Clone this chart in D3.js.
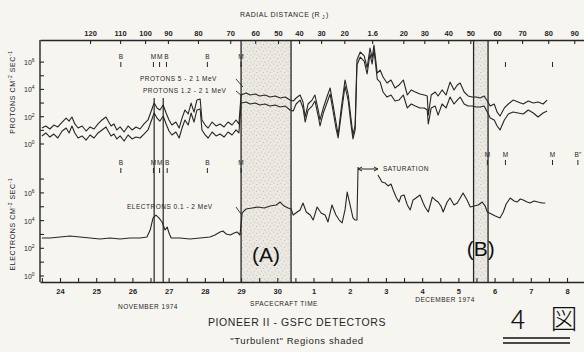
<!DOCTYPE html>
<html>
<head>
<meta charset="utf-8">
<script src="https://cdn.jsdelivr.net/npm/d3@7"></script>
<style>
  body { margin: 0; background: #f6f5f0; }
  svg { display: block; font-family: 'Liberation Sans', 'DejaVu Sans', sans-serif; }
</style>
</head>
<body>
<div id="chart"></div>
<script>
// days counted from 1 Nov 1974 (Dec 1 = 31), values are log10 of flux (cm^-2 sec^-1)
const protonDays = [23.50, 23.61, 23.72, 23.83, 23.94, 24.06, 24.17, 24.25, 24.33, 24.41, 24.50, 24.61, 24.72, 24.83, 24.94,
  25.05, 25.16, 25.27, 25.33, 25.41, 25.49, 25.57, 25.66, 25.77, 25.88, 25.99, 26.10, 26.21, 26.32, 26.43, 26.51, 26.60,
  26.68, 26.76, 26.85, 26.93, 27.01, 27.09, 27.20, 27.29, 27.37, 27.45, 27.54, 27.62, 27.70, 27.78, 27.87, 27.92, 28.01,
  28.09, 28.20, 28.31, 28.42, 28.53, 28.64, 28.75, 28.86, 28.94, 29.00, 29.14, 29.25, 29.39, 29.52, 29.66, 29.80, 29.94,
  30.08, 30.22, 30.35, 30.44, 30.52, 30.63, 30.71, 30.77, 30.85, 30.96, 31.04, 31.13, 31.18, 31.27, 31.38, 31.46, 31.54,
  31.62, 31.68, 31.76, 31.87, 31.96, 32.04, 32.09, 32.15, 32.20, 32.29, 32.40, 32.48, 32.56, 32.62, 32.67, 32.76, 32.84,
  32.92, 33.03, 33.14, 33.25, 33.36, 33.48, 33.59, 33.70, 33.81, 33.94, 34.06, 34.14, 34.17, 34.25, 34.36, 34.44, 34.55,
  34.66, 34.77, 34.88, 34.97, 35.05, 35.16, 35.27, 35.38, 35.49, 35.60, 35.71, 35.80, 35.88, 35.99, 36.07, 36.15, 36.27,
  36.38, 36.51, 36.65, 36.79, 36.93, 37.07, 37.20, 37.34, 37.45];
const protonUpper = [1.17, 1.32, 1.10, 1.39, 1.25, 1.61, 1.90, 1.68, 1.98, 1.47, 1.17, 1.32, 0.95, 1.25, 1.10,
  1.47, 1.76, 1.98, 1.68, 1.32, 1.47, 1.03, 1.25, 0.88, 1.32, 1.03, 1.25, 1.10, 1.47, 1.76, 2.34, 3.00,
  2.64, 2.49, 2.86, 2.27, 1.76, 1.39, 1.61, 1.17, 1.90, 2.49, 2.20, 3.00, 2.34, 3.22, 3.30, 1.76, 1.39,
  1.17, 1.61, 1.32, 1.47, 1.25, 1.61, 1.39, 1.76, 1.47, 3.59, 3.74, 3.59, 3.66, 3.52, 3.59, 3.44, 3.52,
  3.37, 3.44, 3.22, 3.15, 3.37, 3.59, 3.08, 1.98, 2.93, 3.22, 3.59, 2.49, 1.76, 2.64, 3.52, 4.10, 2.86,
  1.61, 0.66, 2.49, 4.69, 3.59, 1.76, 0.66, 1.39, 6.15, 6.74, 6.45, 5.57, 7.03, 6.30, 7.25, 5.20, 5.42,
  4.91, 4.47, 4.69, 4.10, 4.32, 4.69, 3.59, 3.96, 3.81, 3.66, 3.59, 3.52, 2.12, 3.59, 3.81, 3.52, 3.96,
  3.59, 4.54, 3.96, 4.32, 4.47, 3.81, 3.52, 3.44, 3.44, 3.37, 3.52, 3.15, 2.78, 2.93, 2.34, 2.05, 2.64,
  2.93, 3.22, 3.08, 2.93, 3.15, 3.00, 3.08, 2.93, 3.22];
const protonLower = [0.59, 0.81, 0.51, 0.73, 0.44, 0.95, 1.17, 0.81, 1.32, 0.81, 0.44, 0.59, 0.29, 0.66, 0.44,
  0.81, 1.03, 1.25, 0.95, 0.59, 0.73, 0.37, 0.59, 0.22, 0.66, 0.37, 0.51, 0.44, 0.73, 1.03, 1.61, 2.27,
  1.90, 1.68, 2.05, 1.47, 0.95, 0.66, 0.88, 0.44, 1.17, 1.76, 1.39, 2.27, 1.61, 2.49, 2.56, 1.03, 0.66,
  0.44, 0.88, 0.59, 0.73, 0.51, 0.88, 0.66, 1.03, 0.81, 3.00, 3.08, 2.93, 3.00, 2.86, 2.93, 2.78, 2.86,
  2.71, 2.78, 2.49, 2.42, 2.93, 3.22, 2.64, 1.61, 2.49, 2.78, 3.15, 2.05, 1.32, 2.27, 3.08, 3.66, 2.42,
  1.17, 0.44, 2.05, 4.25, 3.15, 1.32, 0.37, 1.03, 5.79, 6.37, 6.08, 5.13, 6.59, 5.86, 6.89, 4.76, 4.54,
  3.81, 3.44, 3.59, 3.15, 3.22, 3.59, 2.64, 2.93, 2.78, 2.64, 2.64, 2.49, 1.47, 2.64, 2.78, 2.12, 2.93,
  2.64, 3.44, 2.93, 3.22, 3.44, 2.93, 2.78, 2.78, 2.71, 2.71, 2.78, 2.34, 1.90, 1.76, 1.32, 1.03, 1.76,
  2.20, 2.34, 2.27, 2.20, 2.49, 2.27, 1.98, 2.27, 2.42];

const electronDays = [23.50, 23.72, 24.00, 24.28, 24.55, 24.83, 25.10, 25.38, 25.66, 25.93, 26.21, 26.40, 26.49, 26.57,
  26.65, 26.73, 26.82, 26.90, 26.96, 27.01, 27.07, 27.31, 27.59, 27.87, 28.14, 28.28, 28.42, 28.50, 28.59, 28.70, 28.81,
  28.89, 28.97, 29.03, 29.14, 29.30, 29.47, 29.64, 29.80, 29.97, 30.08, 30.19, 30.30, 30.38, 30.44, 30.55, 30.63, 30.71,
  30.80, 30.91, 30.99, 31.10, 31.21, 31.32, 31.40, 31.51, 31.62, 31.71, 31.79, 31.87, 31.93, 32.01, 32.09, 32.15, 32.20,
  32.23, 32.50, 32.78, 32.89, 32.98, 33.06, 33.14, 33.20, 33.28, 33.36, 33.42, 33.50, 33.59, 33.67, 33.75, 33.83, 33.94,
  34.03, 34.08, 34.17, 34.28, 34.36, 34.44, 34.52, 34.58, 34.69, 34.77, 34.88, 34.97, 35.05, 35.13, 35.24, 35.33, 35.44,
  35.55, 35.66, 35.74, 35.80, 35.91, 36.02, 36.15, 36.24, 36.32, 36.43, 36.54, 36.62, 36.71, 36.79, 36.90, 36.98, 37.09,
  37.20, 37.31, 37.40];
// null = detector saturated
const electronFlux = [2.74, 2.74, 2.82, 2.89, 2.82, 2.74, 2.67, 2.74, 2.67, 2.74, 2.74, 2.82, 3.32, 4.19,
  4.40, 4.19, 3.90, 3.32, 3.54, 3.10, 2.74, 2.74, 2.67, 2.74, 2.82, 2.96, 3.18, 3.25, 3.03, 2.96, 3.10,
  3.18, 2.96, 4.55, 4.84, 4.91, 4.98, 4.91, 5.05, 5.13, 5.34, 5.05, 4.91, 4.84, 4.40, 4.62, 4.77, 5.27,
  4.62, 4.40, 4.04, 4.98, 4.55, 4.40, 3.90, 5.13, 4.40, 4.04, 3.83, 4.77, 6.06, 5.13, 4.19, 4.04, 4.04,
  7.87, null, 7.29, 6.79, 6.71, 6.50, 6.64, 6.21, 5.70, 5.34, 5.78, 5.85, 5.13, 4.77, 5.49, 5.63, 5.85,
  5.27, 4.98, 4.62, 5.70, 5.49, 5.34, 5.05, 4.62, 5.34, 5.63, 5.13, 5.27, 5.63, 5.99, 5.49, 4.98, 5.05,
  5.13, 5.34, 5.05, 4.62, 4.48, 4.33, 4.19, 4.62, 5.20, 5.63, 5.42, 5.34, 5.56, 5.49, 5.34, 5.27, 5.42,
  5.34, 5.27, 5.27];

const radialLabels = ['120', '110', '100', '90', '80', '70', '60', '50', '40', '30', '20', '1.6', '20', '30', '40', '50', '60', '70', '80', '90'];
const radialDays = [24.83, 25.66, 26.35, 26.98, 27.81, 28.70, 29.39, 30.02, 30.60, 31.21, 31.85, 32.62, 33.48, 34.06, 34.72, 35.33, 36.07, 36.76, 37.48, 38.20];

// bow shock (B) and magnetopause (M) crossings
const protonCrossings = [
  { day: 25.68, label: 'B' }, { day: 26.58, label: 'M' }, { day: 26.75, label: 'M' }, { day: 26.94, label: 'B' },
  { day: 28.07, label: 'B' }, { day: 29.00, label: 'M' }, { day: 36.30, label: '' }, { day: 37.60, label: '' }
];
const electronCrossingsIn = [
  { day: 25.68, label: 'B' }, { day: 26.58, label: 'M' }, { day: 26.75, label: 'M' }, { day: 26.96, label: 'B' },
  { day: 28.07, label: 'B' }, { day: 29.00, label: 'M' }
];
const electronCrossingsOut = [
  { day: 35.80, label: 'M' }, { day: 36.30, label: 'M' }, { day: 37.60, label: 'M' }, { day: 38.30, label: 'B"' }
];
const turbulentRegions = [{ from: 29.00, to: 30.38, name: '(A)' }, { from: 35.42, to: 35.82, name: '(B)' }];
const magnetopauseLines = [26.60, 26.85];

const width = 584, height = 352;
const ink = '#262626';
const margin = { left: 40, right: 584, top: 40, bottom: 282 };

const dayToDate = d => new Date(Date.UTC(1974, 10, 1) + (d - 1) * 864e5);

const svg = d3.select('#chart').append('svg')
  .attr('width', width)
  .attr('height', height);

const defs = svg.append('defs');
const pat = defs.append('pattern').attr('id', 'stipple').attr('patternUnits', 'userSpaceOnUse')
  .attr('width', 7).attr('height', 7);
pat.append('rect').attr('width', 7).attr('height', 7).attr('fill', '#ebe9e2');
[[1, 1], [4.5, 2.5], [2.5, 5], [6, 6]].forEach(p => {
  pat.append('circle').attr('cx', p[0]).attr('cy', p[1]).attr('r', 0.6).attr('fill', '#bdb9b1');
});

const x = d3.scaleUtc()
  .domain([dayToDate(23.448), dayToDate(38.469)])
  .range([margin.left, margin.right]);
const yP = d3.scaleLog().domain([1, Math.pow(10, 7.62)]).range([144, margin.top]);
const yE = d3.scaleLog().domain([1, 1e8]).range([276, 165.2]);

// shaded turbulent regions
svg.append('g').selectAll('rect')
  .data(turbulentRegions)
  .enter().append('rect')
  .attr('x', d => x(dayToDate(d.from)))
  .attr('y', margin.top)
  .attr('width', d => x(dayToDate(d.to)) - x(dayToDate(d.from)))
  .attr('height', margin.bottom - margin.top)
  .attr('fill', 'url(#stipple)');

// region boundary lines
const bounds = [];
turbulentRegions.forEach(r => { bounds.push(r.from, r.to); });
svg.append('g').selectAll('line')
  .data(bounds)
  .enter().append('line')
  .attr('x1', d => x(dayToDate(d))).attr('x2', d => x(dayToDate(d)))
  .attr('y1', margin.top).attr('y2', margin.bottom)
  .attr('stroke', ink).attr('stroke-width', 1.3);

svg.append('g').selectAll('line')
  .data(magnetopauseLines)
  .enter().append('line')
  .attr('x1', d => x(dayToDate(d))).attr('x2', d => x(dayToDate(d)))
  .attr('y1', 98).attr('y2', margin.bottom)
  .attr('stroke', ink).attr('stroke-width', 1.2);

// frame: left, top and bottom axes
svg.append('line').attr('x1', margin.left).attr('x2', margin.left)
  .attr('y1', margin.top).attr('y2', margin.bottom)
  .attr('stroke', ink).attr('stroke-width', 1.4);

const topAxis = svg.append('g')
  .attr('transform', 'translate(0,' + margin.top + ')')
  .call(d3.axisTop(x)
    .tickValues(radialDays.map(dayToDate))
    .tickFormat((d, i) => radialLabels[i])
    .tickSize(-4).tickSizeOuter(0).tickPadding(4));

const halfDays = d3.utcHour.every(12).range(dayToDate(23.5), dayToDate(38.47));
const bottomAxis = svg.append('g')
  .attr('transform', 'translate(0,' + margin.bottom + ')')
  .call(d3.axisBottom(x)
    .tickValues(halfDays)
    .tickFormat(d => d.getUTCHours() === 0 ? d.getUTCDate() : '')
    .tickSize(-4).tickSizeOuter(0).tickPadding(7));

[topAxis, bottomAxis].forEach(a => {
  a.select('.domain').attr('stroke', ink).attr('stroke-width', 1.4);
  a.selectAll('.tick line').attr('stroke', ink).attr('stroke-width', 1.1);
  a.selectAll('.tick text').attr('fill', ink).style('font-size', '7.5px').style('font-weight', 'bold');
});

// y ticks (every decade) and labels (every second decade)
function yAxis(scale, top) {
  const g = svg.append('g');
  const decades = d3.range(0, 9).map(e => Math.pow(10, e)).filter(v => scale(v) >= top);
  g.selectAll('line')
    .data(decades)
    .enter().append('line')
    .attr('x1', margin.left).attr('x2', margin.left + 4)
    .attr('y1', d => scale(d)).attr('y2', d => scale(d))
    .attr('stroke', ink).attr('stroke-width', 1.1);
  const lab = g.selectAll('text')
    .data(decades.filter((d, i) => i % 2 === 0 && i <= 6))
    .enter().append('text')
    .attr('x', 24).attr('y', d => scale(d) + 3)
    .attr('fill', ink).style('font-size', '7px');
  lab.append('tspan').text('10');
  lab.append('tspan').attr('dy', -3).style('font-size', '5px').text(d => Math.round(Math.log10(d)));
}
yAxis(yP, 50);
yAxis(yE, 166);

function axisTitle(cx, cy, name) {
  const t = svg.append('text')
    .attr('transform', 'translate(' + cx + ',' + cy + ') rotate(-90)')
    .attr('text-anchor', 'middle')
    .attr('fill', ink).style('font-size', '7px').style('letter-spacing', '0.6px');
  t.append('tspan').text(name + '  CM');
  t.append('tspan').attr('dy', -3).style('font-size', '5px').text('-2');
  t.append('tspan').attr('dy', 3).text(' SEC');
  t.append('tspan').attr('dy', -3).style('font-size', '5px').text('-1');
}
axisTitle(15, 92, 'PROTONS');
axisTitle(15, 224, 'ELECTRONS');

// data traces
const protonLine = () => d3.line()
  .x((d, i) => x(dayToDate(protonDays[i])))
  .y(d => yP(Math.pow(10, d)));

svg.append('path').datum(protonUpper)
  .attr('d', protonLine())
  .attr('fill', 'none').attr('stroke', ink).attr('stroke-width', 1.1).attr('stroke-linejoin', 'round');
svg.append('path').datum(protonLower)
  .attr('d', protonLine())
  .attr('fill', 'none').attr('stroke', ink).attr('stroke-width', 1.1).attr('stroke-linejoin', 'round');

const electronLine = d3.line()
  .defined(d => d !== null)
  .x((d, i) => x(dayToDate(electronDays[i])))
  .y(d => yE(Math.pow(10, d)));
svg.append('path').datum(electronFlux)
  .attr('d', electronLine)
  .attr('fill', 'none').attr('stroke', ink).attr('stroke-width', 1.1).attr('stroke-linejoin', 'round');

// crossing markers
function crossings(data, yLetter, yTick) {
  const g = svg.append('g').selectAll('g')
    .data(data)
    .enter().append('g')
    .attr('transform', d => 'translate(' + x(dayToDate(d.day)) + ',0)');
  g.append('text').text(d => d.label)
    .attr('y', yLetter).attr('text-anchor', 'middle')
    .attr('fill', ink).style('font-size', '6.5px');
  g.append('line').attr('y1', yTick).attr('y2', yTick + 5)
    .attr('stroke', ink).attr('stroke-width', 1);
}
crossings(protonCrossings, 59, 62);
crossings(electronCrossingsIn, 165, 168);
crossings(electronCrossingsOut, 157, 160);

// region labels
svg.append('g').selectAll('text')
  .data(turbulentRegions)
  .enter().append('text')
  .attr('x', d => (x(dayToDate(d.from)) + x(dayToDate(d.to))) / 2)
  .attr('y', (d, i) => i === 0 ? 262 : 256)
  .attr('text-anchor', 'middle')
  .attr('fill', '#111').style('font-size', '21px')
  .text(d => d.name);

// annotations
const note = (tx, ty, txt, size) => svg.append('text')
  .attr('x', tx).attr('y', ty).attr('fill', ink)
  .style('font-size', size || '6.5px').style('letter-spacing', '0.5px').text(txt);
note(140, 81, 'PROTONS  5 - 2 1  MeV');
note(143, 93, 'PROTONS  1.2 - 2 1  MeV');
note(127, 209, 'ELECTRONS   0.1 - 2  MeV');
svg.append('path').attr('d', 'M236,79 L243,87 M236,91 L242,96 M236,207 L241,214')
  .attr('stroke', ink).attr('fill', 'none').attr('stroke-width', 0.9);

// saturation marker
const satFrom = x(dayToDate(32.23)), satTo = x(dayToDate(32.78));
svg.append('path')
  .attr('d', 'M' + satFrom + ',169 H' + satTo + ' M' + (satFrom + 4) + ',167 L' + satFrom + ',169 L' + (satFrom + 4) + ',171 M' + (satTo - 4) + ',167 L' + satTo + ',169 L' + (satTo - 4) + ',171')
  .attr('stroke', ink).attr('fill', 'none').attr('stroke-width', 1);
note(satTo + 5, 171, 'SATURATION');

note(240, 17, 'RADIAL  DISTANCE  (R', '7px');
svg.append('text').attr('x', 322).attr('y', 19).attr('fill', ink).style('font-size', '5px').text('J');
note(326, 17, ')', '7px');

const center = (cx, cy, txt, size, extra) => svg.append('text')
  .attr('x', cx).attr('y', cy).attr('text-anchor', 'middle').attr('fill', ink)
  .style('font-size', size).style('letter-spacing', extra || '0.5px').text(txt);
center(148, 309, 'NOVEMBER  1974', '6.5px');
center(284, 306, 'SPACECRAFT  TIME', '6.5px');
center(445, 302, 'DECEMBER  1974', '6.5px');
center(297, 326, 'PIONEER II - GSFC DETECTORS', '10.5px', '0.6px');
center(297, 344, '"Turbulent" Regions shaded', '9.5px', '0.6px');

// handwritten figure number
const hand = (cx, txt) => svg.append('text').attr('x', cx).attr('y', 329).attr('text-anchor', 'middle')
  .attr('fill', '#111').style('font-size', '27px')
  .style('font-family', "'Noto Sans CJK JP', sans-serif").style('font-weight', '300').text(txt);
hand(518, '4');
hand(564, '図');
svg.append('path').attr('d', 'M503,338 H570 M503,343 H570')
  .attr('stroke', '#111').attr('stroke-width', 1.6);
</script>
</body>
</html>
